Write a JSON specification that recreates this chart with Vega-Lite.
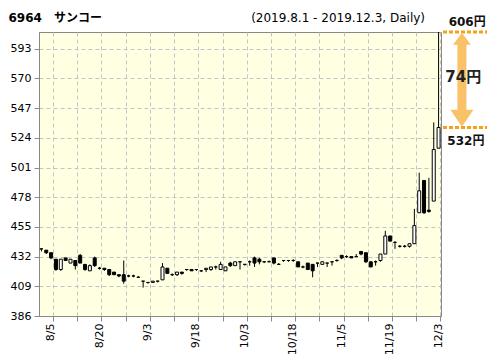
{
  "$schema": "https://vega.github.io/schema/vega-lite/v6.json",
  "width": 402,
  "height": 284,
  "autosize": "none",
  "padding": {"left": 39, "top": 32, "right": 55, "bottom": 48},
  "background": "white",
  "title": {
    "text": "(2019.8.1 - 2019.12.3, Daily)",
    "anchor": "end",
    "frame": "group",
    "font": "DejaVu Sans",
    "fontSize": 12,
    "fontWeight": "normal",
    "color": "black",
    "dx": -16,
    "offset": -14
  },
  "config": {
    "view": {"fill": "#FFFFE2", "stroke": "#888888"},
    "axis": {
      "labelFont": "DejaVu Sans",
      "labelFontSize": 11,
      "labelColor": "black",
      "labelOverlap": false,
      "domainColor": "#888888",
      "tickColor": "#888888",
      "gridColor": "#C4C4C4",
      "gridDash": [4, 3]
    }
  },
  "datasets": {
    "candles": [
      {"d": "8/1", "o": 438, "h": 438, "l": 436, "c": 438},
      {"d": "8/2", "o": 437, "h": 437, "l": 434, "c": 435},
      {"d": "8/5", "o": 435, "h": 435, "l": 430, "c": 431},
      {"d": "8/6", "o": 430, "h": 430, "l": 421, "c": 422},
      {"d": "8/7", "o": 422, "h": 430, "l": 421, "c": 430},
      {"d": "8/8", "o": 431, "h": 431, "l": 429, "c": 429},
      {"d": "8/9", "o": 427, "h": 430, "l": 427, "c": 430},
      {"d": "8/13", "o": 429, "h": 429, "l": 422, "c": 425},
      {"d": "8/14", "o": 433, "h": 434, "l": 427, "c": 427},
      {"d": "8/15", "o": 426, "h": 426, "l": 421, "c": 422},
      {"d": "8/16", "o": 421, "h": 426, "l": 421, "c": 425},
      {"d": "8/19", "o": 431, "h": 432, "l": 424, "c": 425},
      {"d": "8/20", "o": 423, "h": 424, "l": 422, "c": 423},
      {"d": "8/21", "o": 423, "h": 423, "l": 421, "c": 422},
      {"d": "8/22", "o": 422, "h": 422, "l": 417, "c": 418},
      {"d": "8/23", "o": 420, "h": 420, "l": 418, "c": 418},
      {"d": "8/26", "o": 418, "h": 418, "l": 416, "c": 417},
      {"d": "8/27", "o": 418, "h": 429, "l": 411, "c": 413},
      {"d": "8/28", "o": 417, "h": 418, "l": 416, "c": 417},
      {"d": "8/29", "o": 417, "h": 418, "l": 416, "c": 417},
      {"d": "8/30", "o": 416, "h": 417, "l": 416, "c": 416},
      {"d": "9/2", "o": 413, "h": 413, "l": 408, "c": 413},
      {"d": "9/3", "o": 412, "h": 412, "l": 411, "c": 412},
      {"d": "9/4", "o": 412, "h": 413, "l": 412, "c": 413},
      {"d": "9/5", "o": 413, "h": 413, "l": 412, "c": 413},
      {"d": "9/6", "o": 414, "h": 427, "l": 414, "c": 424},
      {"d": "9/9", "o": 423, "h": 423, "l": 419, "c": 419},
      {"d": "9/10", "o": 418, "h": 419, "l": 417, "c": 418},
      {"d": "9/11", "o": 418, "h": 420, "l": 417, "c": 420},
      {"d": "9/12", "o": 420, "h": 420, "l": 418, "c": 419},
      {"d": "9/13", "o": 422, "h": 422, "l": 421, "c": 422},
      {"d": "9/17", "o": 422, "h": 422, "l": 421, "c": 421},
      {"d": "9/18", "o": 422, "h": 422, "l": 421, "c": 422},
      {"d": "9/19", "o": 421, "h": 421, "l": 420, "c": 421},
      {"d": "9/20", "o": 422, "h": 423, "l": 420, "c": 423},
      {"d": "9/24", "o": 422, "h": 424, "l": 421, "c": 424},
      {"d": "9/25", "o": 424, "h": 425, "l": 422, "c": 424},
      {"d": "9/26", "o": 422, "h": 428, "l": 422, "c": 426},
      {"d": "9/27", "o": 421, "h": 424, "l": 421, "c": 424},
      {"d": "9/30", "o": 427, "h": 428, "l": 424, "c": 425},
      {"d": "10/1", "o": 425, "h": 428, "l": 425, "c": 428},
      {"d": "10/2", "o": 428, "h": 428, "l": 422, "c": 428},
      {"d": "10/3", "o": 426, "h": 426, "l": 425, "c": 426},
      {"d": "10/4", "o": 428, "h": 429, "l": 425, "c": 428},
      {"d": "10/7", "o": 431, "h": 432, "l": 424, "c": 427},
      {"d": "10/8", "o": 430, "h": 431, "l": 426, "c": 428},
      {"d": "10/9", "o": 428, "h": 428, "l": 427, "c": 428},
      {"d": "10/10", "o": 428, "h": 429, "l": 428, "c": 428},
      {"d": "10/11", "o": 431, "h": 431, "l": 426, "c": 427},
      {"d": "10/15", "o": 426, "h": 427, "l": 426, "c": 426},
      {"d": "10/16", "o": 429, "h": 429, "l": 428, "c": 429},
      {"d": "10/17", "o": 429, "h": 429, "l": 428, "c": 429},
      {"d": "10/18", "o": 429, "h": 430, "l": 428, "c": 429},
      {"d": "10/21", "o": 428, "h": 428, "l": 424, "c": 424},
      {"d": "10/23", "o": 424, "h": 425, "l": 423, "c": 424},
      {"d": "10/24", "o": 427, "h": 427, "l": 422, "c": 422},
      {"d": "10/25", "o": 426, "h": 426, "l": 416, "c": 421},
      {"d": "10/28", "o": 427, "h": 427, "l": 424, "c": 427},
      {"d": "10/29", "o": 426, "h": 428, "l": 426, "c": 428},
      {"d": "10/30", "o": 427, "h": 427, "l": 424, "c": 427},
      {"d": "10/31", "o": 428, "h": 428, "l": 425, "c": 428},
      {"d": "11/1", "o": 429, "h": 430, "l": 428, "c": 429},
      {"d": "11/5", "o": 433, "h": 433, "l": 430, "c": 431},
      {"d": "11/6", "o": 432, "h": 433, "l": 431, "c": 432},
      {"d": "11/7", "o": 432, "h": 432, "l": 431, "c": 431},
      {"d": "11/8", "o": 432, "h": 434, "l": 432, "c": 432},
      {"d": "11/11", "o": 436, "h": 436, "l": 433, "c": 434},
      {"d": "11/12", "o": 435, "h": 435, "l": 427, "c": 428},
      {"d": "11/13", "o": 428, "h": 428, "l": 424, "c": 424},
      {"d": "11/14", "o": 428, "h": 429, "l": 425, "c": 428},
      {"d": "11/15", "o": 429, "h": 434, "l": 428, "c": 434},
      {"d": "11/18", "o": 434, "h": 452, "l": 434, "c": 448},
      {"d": "11/19", "o": 448, "h": 448, "l": 444, "c": 444},
      {"d": "11/20", "o": 443, "h": 444, "l": 438, "c": 443},
      {"d": "11/21", "o": 440, "h": 441, "l": 439, "c": 440},
      {"d": "11/22", "o": 440, "h": 441, "l": 439, "c": 440},
      {"d": "11/25", "o": 440, "h": 442, "l": 439, "c": 442},
      {"d": "11/26", "o": 442, "h": 469, "l": 442, "c": 456},
      {"d": "11/27", "o": 466, "h": 497, "l": 466, "c": 483},
      {"d": "11/28", "o": 491, "h": 491, "l": 465, "c": 466},
      {"d": "11/29", "o": 468, "h": 493, "l": 466, "c": 467},
      {"d": "12/2", "o": 475, "h": 536, "l": 475, "c": 515},
      {"d": "12/3", "o": 516, "h": 606, "l": 516, "c": 532}
    ],
    "levels": [
      {"p": 606, "label": "606円", "pos": "top"},
      {"p": 532, "label": "532円", "pos": "bottom"}
    ],
    "diff": [
      {"p": 569, "label": "74円"}
    ]
  },
  "layer": [
    {
      "data": {"name": "candles"},
      "encoding": {
        "x": {
          "field": "d",
          "type": "ordinal",
          "sort": null,
          "scale": {"paddingInner": 0, "paddingOuter": 0},
          "axis": {
            "title": null,
            "values": ["8/5", "8/13", "8/20", "8/27", "9/3", "9/10", "9/18", "9/26", "10/3", "10/10", "10/18", "10/28", "11/5", "11/12", "11/19", "11/26", "12/3"],
            "labelExpr": "indexof(['8/5','8/20','9/3','9/18','10/3','10/18','11/5','11/19','12/3'], datum.value) >= 0 ? datum.value : ''",
            "bandPosition": 1,
            "labelAngle": 270,
            "tickSize": 5,
            "labelPadding": 2,
            "grid": true
          }
        },
        "y": {
          "field": "l",
          "type": "quantitative",
          "scale": {"domain": [386, 606], "nice": false, "zero": false},
          "axis": {
            "values": [386, 409, 432, 455, 478, 501, 524, 547, 570, 593],
            "labelOverlap": false,
            "title": "6964　サンコー",
            "titleAngle": 0,
            "titleAlign": "left",
            "titleBaseline": "alphabetic",
            "titleX": -31,
            "titleY": -11,
            "titleFont": "DejaVu Sans, Noto Sans CJK JP",
            "titleFontSize": 12,
            "titleFontWeight": "bold",
            "titleColor": "black",
            "tickSize": 5,
            "labelPadding": 3,
            "grid": true
          }
        }
      },
      "layer": [
        {
          "mark": {"type": "rule", "color": "black", "strokeWidth": 1},
          "encoding": {
            "y2": {"field": "h"}
          }
        },
        {
          "mark": {"type": "bar", "size": 3, "stroke": "black", "strokeWidth": 1},
          "encoding": {
            "y": {"field": "o", "type": "quantitative"},
            "y2": {"field": "c"},
            "fill": {
              "condition": {"test": "datum.c >= datum.o", "value": "white"},
              "value": "black"
            }
          }
        }
      ]
    },
    {
      "layer": [
        {
          "data": {"name": "levels"},
          "mark": {"type": "rule", "stroke": "#F5A316", "strokeWidth": 3, "strokeDash": [4, 2], "strokeCap": "butt"},
          "encoding": {
            "x": {"datum": 0, "type": "quantitative", "scale": {"domain": [0, 1], "range": [404, 448]}, "axis": null},
            "x2": {"datum": 1},
            "y": {"field": "p", "type": "quantitative", "axis": null}
          }
        },
        {
          "data": {"name": "diff"},
          "mark": {
            "type": "point",
            "shape": "M0,-1L0.19,-0.745L0.096,-0.745L0.096,0.638L0.245,0.638L0,1L-0.245,0.638L-0.096,0.638L-0.096,-0.745L-0.19,-0.745Z",
            "filled": true,
            "fill": "#F9C268",
            "opacity": 1,
            "strokeWidth": 0,
            "size": 8836
          },
          "encoding": {
            "x": {"datum": 0.43, "type": "quantitative", "axis": null},
            "y": {"field": "p", "type": "quantitative", "axis": null}
          }
        },
        {
          "data": {"name": "diff"},
          "mark": {"type": "text", "font": "DejaVu Sans, Noto Sans CJK JP", "fontSize": 15, "fontWeight": "bold", "color": "#222222", "align": "center", "baseline": "middle", "dy": -3},
          "encoding": {
            "x": {"datum": 0.46, "type": "quantitative", "axis": null},
            "y": {"field": "p", "type": "quantitative", "axis": null},
            "text": {"field": "label"}
          }
        },
        {
          "data": {"name": "levels"},
          "transform": [{"filter": "datum.pos == 'top'"}],
          "mark": {"type": "text", "font": "DejaVu Sans, Noto Sans CJK JP", "fontSize": 12, "fontWeight": "bold", "color": "#111111", "align": "center", "baseline": "alphabetic", "dy": -6},
          "encoding": {
            "x": {"datum": 0.55, "type": "quantitative", "axis": null},
            "y": {"field": "p", "type": "quantitative", "axis": null},
            "text": {"field": "label"}
          }
        },
        {
          "data": {"name": "levels"},
          "transform": [{"filter": "datum.pos == 'bottom'"}],
          "mark": {"type": "text", "font": "DejaVu Sans, Noto Sans CJK JP", "fontSize": 12, "fontWeight": "bold", "color": "#111111", "align": "center", "baseline": "alphabetic", "dy": 17},
          "encoding": {
            "x": {"datum": 0.52, "type": "quantitative", "axis": null},
            "y": {"field": "p", "type": "quantitative", "axis": null},
            "text": {"field": "label"}
          }
        }
      ]
    }
  ],
  "resolve": {"scale": {"x": "independent"}, "axis": {"y": "independent"}}
}
